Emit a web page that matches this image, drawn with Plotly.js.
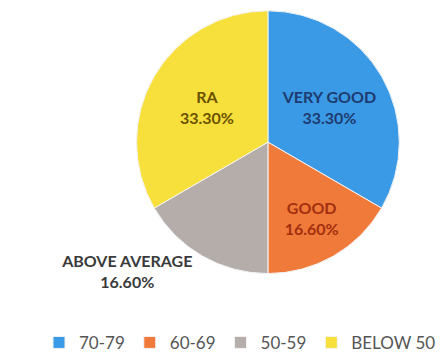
<!DOCTYPE html>
<html>
<head>
<meta charset="utf-8">
<script src="https://cdn.plot.ly/plotly-3.0.1.min.js"></script>
<style>html,body{margin:0;padding:0;background:#fff;}#chart{width:441px;height:361px;}</style>
</head>
<body>
<div id="chart"></div>
<script>
// Data
var legendLabels = ['70-79', '60-69', '50-59', 'BELOW 50'];
var sliceNames = ['VERY GOOD', 'GOOD', 'ABOVE AVERAGE', 'RA'];
var percentValues = [33.3, 16.6, 16.6, 33.3];

var sliceColors = ['#3A9AE6', '#F07A3A', '#B4ADA9', '#F7E03C'];
var textColors = ['#1E3A6E', '#A3300F', '#3A3A3A', '#6A5200'];

var trace = {
  type: 'pie',
  labels: legendLabels,
  values: percentValues,
  customdata: sliceNames,
  texttemplate: '<b>%{customdata}<br>%{value:.2f}%</b>',
  hoverinfo: 'none',
  sort: false,
  direction: 'clockwise',
  rotation: 0,
  textposition: ['inside', 'inside', 'outside', 'inside'],
  insidetextorientation: 'horizontal',
  textfont: {family: 'Lato, "Open Sans", sans-serif', size: 16, color: textColors},
  marker: {colors: sliceColors, line: {color: '#f4f4f4', width: 1}},
  domain: {x: [0.308, 0.907], y: [0.238, 0.97]},
  automargin: false
};

var layout = {
  width: 441,
  height: 361,
  margin: {l: 0, r: 0, t: 0, b: 0},
  paper_bgcolor: '#ffffff',
  showlegend: true,
  legend: {
    orientation: 'h',
    x: 0.57, xanchor: 'center',
    y: 0.045, yanchor: 'middle',
    font: {family: 'Lato, "Open Sans", sans-serif', size: 17, color: '#555'},
    itemwidth: 30,
    traceorder: 'normal'
  },
  font: {family: 'Lato, sans-serif'}
};

Plotly.newPlot('chart', [trace], layout, {staticPlot: true});
</script>
</body>
</html>
